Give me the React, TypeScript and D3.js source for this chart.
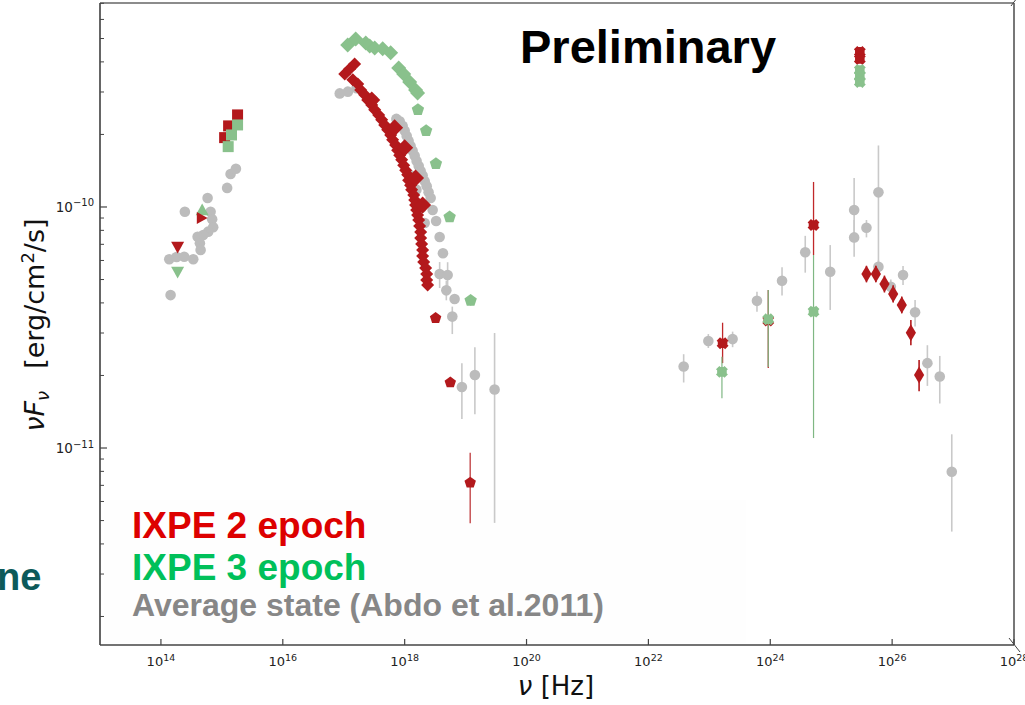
import React from 'react';
import * as d3 from 'd3';

type P = [number, number];
type PE = [number, number, number, number];

// ---------- Average state (Abdo et al. 2011) ----------
const avgOptical: P[] = [
  [1.44e14, 4.31e-11], [1.37e14, 6.07e-11], [1.81e14, 6.2e-11], [2.41e14, 6.22e-11], [3.39e14, 6.07e-11],
  [2.47e14, 9.55e-11], [5.83e14, 1.09e-10], [6.53e14, 9.55e-11], [6.93e14, 8.89e-11], [7.2e14, 8.24e-11],
  [5.96e14, 7.9e-11], [4.94e14, 7.65e-11], [4.0e14, 7.53e-11], [4.36e14, 7.07e-11], [4.48e14, 6.63e-11],
  [1.22e15, 1.2e-10], [1.39e15, 1.37e-10], [1.7e15, 1.44e-10],
];
const avgXray: P[] = [
  [8.6e16, 2.96e-10], [1.17e17, 3.01e-10], [1.62e17, 3.11e-10], [3.02e17, 2.78e-10], [7.31e17, 2.32e-10],
  [8.28e17, 2.27e-10], [9.27e17, 2.17e-10], [1.0e18, 2.07e-10], [1.08e18, 1.97e-10], [1.16e18, 1.88e-10],
  [1.25e18, 1.79e-10], [1.35e18, 1.71e-10], [1.46e18, 1.63e-10], [1.57e18, 1.55e-10], [1.7e18, 1.48e-10],
  [1.83e18, 1.41e-10], [1.97e18, 1.35e-10], [2.13e18, 1.28e-10], [2.3e18, 1.22e-10], [2.47e18, 1.15e-10],
  [2.67e18, 1.09e-10], [1.21e18, 1.36e-10], [1.56e18, 1.18e-10], [1.88e18, 9.9e-11], [2.13e18, 8.58e-11],
  [2.88e18, 9.72e-11], [3.28e18, 8.75e-11], [3.75e18, 7.51e-11], [4.25e18, 6.43e-11], [6.6e18, 4.15e-11],
];
// [nu, nuFnu, low, high]
const avgErr: PE[] = [
  [3.75e18, 5.27e-11, 4.61e-11, 5.91e-11], [5.07e18, 5.22e-11, 4.6e-11, 5.9e-11], [4.83e18, 4.51e-11, 4.1e-11, 4.95e-11],
  [6.05e18, 3.51e-11, 2.97e-11, 3.86e-11], [8.69e18, 1.79e-11, 1.32e-11, 2.25e-11], [1.42e19, 2.01e-11, 1.38e-11, 2.62e-11],
  [2.99e19, 1.75e-11, 4.89e-12, 3.0e-11],
  [3.79e22, 2.18e-11, 1.87e-11, 2.45e-11], [9.63e22, 2.78e-11, 2.6e-11, 2.97e-11], [2.41e23, 2.83e-11, 2.62e-11, 3.04e-11],
  [6.05e23, 4.08e-11, 3.68e-11, 4.45e-11], [1.56e24, 4.94e-11, 4.29e-11, 5.62e-11], [3.75e24, 6.49e-11, 5.34e-11, 7.59e-11],
  [9.63e24, 5.39e-11, 3.74e-11, 6.95e-11], [2.38e25, 9.72e-11, 7.65e-11, 1.32e-10], [2.38e25, 7.48e-11, 6.22e-11, 8.83e-11],
  [3.79e25, 8.2e-11, 7.48e-11, 8.83e-11], [5.96e25, 1.15e-10, 5.62e-11, 1.8e-10], [5.96e25, 5.65e-11, 5.3e-11, 6.0e-11],
  [9.52e25, 4.67e-11, 4.4e-11, 5.0e-11], [1.51e26, 5.22e-11, 4.75e-11, 5.69e-11], [2.38e26, 3.66e-11, 3.19e-11, 4.11e-11],
  [3.79e26, 2.25e-11, 1.81e-11, 2.67e-11], [6.05e26, 1.98e-11, 1.53e-11, 2.41e-11], [9.52e26, 7.97e-12, 4.5e-12, 1.14e-11],
];

// ---------- IXPE 2 epoch ----------
const ixpe2TriDown: P[] = [[1.88e14, 6.82e-11]];
const ixpe2TriRight: P[] = [[4.65e14, 9.0e-11]];
const ixpe2Squares: P[] = [[1.81e15, 2.41e-10], [1.29e15, 2.17e-10], [1.11e15, 1.94e-10]];
const ixpe2Xray: P[] = [
  [1.04e17, 3.56e-10], [1.25e17, 3.74e-10], [1.51e17, 3.92e-10], [1.41e17, 3.37e-10], [1.7e17, 3.24e-10],
  [1.9e17, 3.06e-10], [2.21e17, 2.92e-10], [2.47e17, 2.78e-10], [2.88e17, 2.65e-10], [3.22e17, 2.53e-10],
  [3.75e17, 2.41e-10], [4.2e17, 2.3e-10], [4.7e17, 2.19e-10], [5.26e17, 2.09e-10], [5.89e17, 1.99e-10],
  [6.35e17, 1.9e-10], [7.11e17, 1.81e-10], [7.67e17, 1.72e-10], [8.28e17, 1.64e-10], [8.93e17, 1.57e-10],
  [9.63e17, 1.49e-10], [1.04e18, 1.42e-10], [1.12e18, 1.36e-10], [1.16e18, 1.29e-10], [1.25e18, 1.23e-10],
  [1.3e18, 1.18e-10], [1.41e18, 1.12e-10], [1.46e18, 1.07e-10], [1.51e18, 1.02e-10], [1.57e18, 9.72e-11],
  [1.63e18, 9.27e-11], [1.7e18, 8.83e-11], [1.76e18, 8.34e-11], [1.83e18, 7.87e-11], [1.83e18, 7.43e-11],
  [1.9e18, 7.02e-11], [1.97e18, 6.63e-11], [1.97e18, 6.26e-11], [2.05e18, 5.91e-11], [2.21e18, 5.58e-11],
  [2.3e18, 5.27e-11], [2.3e18, 4.98e-11], [2.38e18, 4.75e-11],
];
const ixpe2XrayBig: P[] = [[2.88e17, 2.78e-10], [6.85e17, 2.13e-10], [1.0e18, 1.76e-10], [1.51e18, 1.32e-10], [1.97e18, 1.02e-10]];
const ixpe2Pent: PE[] = [
  [3.22e18, 3.46e-11, 3.46e-11, 3.46e-11], [5.61e18, 1.87e-11, 1.87e-11, 1.87e-11], [1.19e19, 7.18e-12, 4.87e-12, 9.55e-12],
];
const ixpe2Gamma: PE[] = [
  [1.65e23, 2.72e-11, 2.25e-11, 3.31e-11], [9.27e23, 3.38e-11, 2.15e-11, 4.53e-11], [5.13e24, 8.42e-11, 6.32e-11, 1.27e-10],
];
const ixpe2VHE: PE[] = [
  [3.79e25, 5.27e-11, 4.87e-11, 5.7e-11], [5.41e25, 5.27e-11, 4.87e-11, 5.7e-11], [7.48e25, 4.79e-11, 4.42e-11, 5.19e-11],
  [1.04e26, 4.36e-11, 4.02e-11, 4.73e-11], [1.44e26, 3.92e-11, 3.62e-11, 4.25e-11], [2.03e26, 3.01e-11, 2.67e-11, 3.4e-11],
  [2.77e26, 2.01e-11, 1.72e-11, 2.32e-11],
];
const ixpe2UL: P[] = [[2.95e25, 4.4e-10], [2.95e25, 4.11e-10]];

// ---------- IXPE 3 epoch ----------
const ixpe3TriDown: P[] = [[1.88e14, 5.37e-11]];
const ixpe3TriUp: P[] = [[4.75e14, 9.72e-11]];
const ixpe3Squares: P[] = [[1.81e15, 2.19e-10], [1.44e15, 1.99e-10], [1.27e15, 1.78e-10]];
const ixpe3Xray: P[] = [
  [1.16e17, 4.7e-10], [1.57e17, 4.98e-10], [2.3e17, 4.79e-10], [2.67e17, 4.66e-10], [3.22e17, 4.57e-10],
  [4.36e17, 4.53e-10], [5.89e17, 4.36e-10], [7.98e17, 3.77e-10], [9.63e17, 3.56e-10], [1.21e18, 3.3e-10],
  [1.51e18, 3.06e-10], [1.63e18, 2.97e-10],
];
const ixpe3Pent: PE[] = [
  [1.65e18, 2.53e-10, 2.53e-10, 2.53e-10], [2.25e18, 2.07e-10, 2.07e-10, 2.07e-10], [3.26e18, 1.51e-10, 1.51e-10, 1.51e-10],
  [5.47e18, 9.09e-11, 9.09e-11, 9.09e-11], [1.21e19, 4.09e-11, 3.9e-11, 4.3e-11],
];
const ixpe3Gamma: PE[] = [
  [1.61e23, 2.07e-11, 1.61e-11, 2.39e-11], [9.27e23, 3.42e-11, 2.17e-11, 4.53e-11], [5.13e24, 3.68e-11, 1.1e-11, 6.32e-11],
];
const ixpe3UL: P[] = [[2.95e25, 3.7e-10], [2.95e25, 3.5e-10], [2.95e25, 3.3e-10]];

// ---------- axes ----------
const xDomain: [number, number] = [1e13, 1e28];
const yDomain: [number, number] = [1.523e-12, 7.02e-10];
const xTickExps = [14, 16, 18, 20, 22, 24, 26, 28];
const yTickExps = [-11, -10];

const legendLabels = ['IXPE 2 epoch', 'IXPE 3 epoch', 'Average state (Abdo et al.2011)'];

const RED = '#b3191c';
const GREEN = '#89c18c';
const GRAY = '#bcbcbc';

function polygon(pts: [number, number][]): string {
  return 'M' + pts.map((p) => `${p[0].toFixed(2)},${p[1].toFixed(2)}`).join('L') + 'Z';
}
function shape(kind: string, s: number): string {
  switch (kind) {
    case 'diamond':
      return polygon([[0, -s / 2], [s / 2, 0], [0, s / 2], [-s / 2, 0]]);
    case 'thin':
      return polygon([[0, -s / 2], [s * 0.3, 0], [0, s / 2], [-s * 0.3, 0]]);
    case 'square':
      return polygon([[-s / 2, -s / 2], [s / 2, -s / 2], [s / 2, s / 2], [-s / 2, s / 2]]);
    case 'triDown':
      return polygon([[-s / 2, -s * 0.4], [s / 2, -s * 0.4], [0, s * 0.5]]);
    case 'triUp':
      return polygon([[-s / 2, s * 0.4], [s / 2, s * 0.4], [0, -s * 0.5]]);
    case 'triRight':
      return polygon([[-s * 0.4, -s / 2], [s * 0.5, 0], [-s * 0.4, s / 2]]);
    case 'pentagon': {
      const pts: [number, number][] = [];
      for (let k = 0; k < 5; k++) {
        const a = -Math.PI / 2 + (k * 2 * Math.PI) / 5;
        pts.push([(s / 2) * Math.cos(a), (s / 2) * Math.sin(a)]);
      }
      return polygon(pts);
    }
    case 'xblob': {
      const L = s / 2, a = s * 0.2;
      const base: [number, number][] = [
        [-a, -L], [a, -L], [a, -a], [L, -a], [L, a], [a, a], [a, L], [-a, L], [-a, a], [-L, a], [-L, -a], [-a, -a],
      ];
      const r = Math.PI / 4;
      const rot = base.map(([x, y]) => [x * Math.cos(r) - y * Math.sin(r), x * Math.sin(r) + y * Math.cos(r)] as [number, number]);
      const plus = base.map(([x, y]) => [x * 0.8, y * 0.8] as [number, number]);
      return polygon(rot) + polygon(plus);
    }
    default:
      return '';
  }
}

export default function App() {
  const x = d3.scaleLog().domain(xDomain).range([100, 1014]);
  const y = d3.scaleLog().domain(yDomain).range([645, 3]);

  const marks = (data: P[], kind: string, s: number, fill: string, key: string) =>
    data.map((d, i) => (
      <path key={key + i} d={shape(kind, s)} transform={`translate(${x(d[0])},${y(d[1])})`} fill={fill} />
    ));
  const circles = (data: P[], fill: string, key: string) =>
    data.map((d, i) => <circle key={key + i} cx={x(d[0])} cy={y(d[1])} r={5.3} fill={fill} />);
  const errs = (data: PE[], color: string, key: string, w = 1.5) =>
    data
      .filter((d) => d[2] !== d[3])
      .map((d, i) => (
        <line key={key + i} x1={x(d[0])} x2={x(d[0])} y1={y(d[2])} y2={y(d[3])} stroke={color} strokeWidth={w} />
      ));
  const asP = (data: PE[]): P[] => data.map((d) => [d[0], d[1]] as P);

  // minor y ticks
  const yMinor: number[] = [];
  for (const e of [-12, -11, -10]) {
    for (let m = 2; m <= 9; m++) {
      const v = m * Math.pow(10, e);
      if (v > yDomain[0] && v < yDomain[1]) yMinor.push(v);
    }
  }

  const tickFont = "'DejaVu Sans', sans-serif";
  const legendFont = "'Liberation Sans', Arial, sans-serif";

  return (
    <svg width={1025} height={705} style={{ position: 'absolute', left: 0, top: 0, background: '#fff' }}>
      <rect x={0} y={0} width={1025} height={705} fill="#fff" />
      {/* legend backdrop */}
      <rect x={104} y={500} width={642} height={143} fill="#fefefe" />

      {/* frame */}
      <line x1={100} x2={1014} y1={3} y2={3} stroke="#666" strokeWidth={1.6} />
      <line x1={1014} x2={1014} y1={3} y2={645} stroke="#555" strokeWidth={1.6} />
      <line x1={100} x2={100} y1={3} y2={645} stroke="#555" strokeWidth={1.8} />
      <line x1={100} x2={1014} y1={645} y2={645} stroke="#444" strokeWidth={1.6} />
      <line x1={1009} x2={1020} y1={638} y2={652} stroke="#444" strokeWidth={1} />
      <line x1={1011} x2={1017} y1={6} y2={-2} stroke="#444" strokeWidth={1} />

      {/* x ticks */}
      {xTickExps.map((e) => {
        const px = x(Math.pow(10, e));
        return (
          <g key={'xt' + e}>
            <line x1={px} x2={px} y1={645} y2={639} stroke="#444" strokeWidth={1.2} />
            <text x={px} y={666} fontFamily={tickFont} fontSize={13} fill="#222" textAnchor="middle">
              10<tspan fontSize={9.5} dy={-5.5}>{e}</tspan>
            </text>
          </g>
        );
      })}
      {/* y ticks */}
      {yMinor.map((v, i) => (
        <line key={'ym' + i} x1={100} x2={104} y1={y(v)} y2={y(v)} stroke="#444" strokeWidth={1} />
      ))}
      {yTickExps.map((e) => {
        const py = y(Math.pow(10, e));
        return (
          <g key={'yt' + e}>
            <line x1={100} x2={107} y1={py} y2={py} stroke="#444" strokeWidth={1.2} />
            <text x={94} y={py + 5} fontFamily={tickFont} fontSize={13.5} fill="#222" textAnchor="end">
              10<tspan fontSize={10} dy={-5.5}>{'\u2212' + Math.abs(e)}</tspan>
            </text>
          </g>
        );
      })}

      {/* axis labels */}
      <text x={556} y={695} fontFamily={tickFont} fontSize={26} fill="#111" textAnchor="middle">
        <tspan fontStyle="italic">ν</tspan> [Hz]
      </text>
      <text transform="translate(44,325) rotate(-90)" fontFamily={tickFont} fontSize={27} fill="#111" textAnchor="middle">
        <tspan fontStyle="italic">νF</tspan>
        <tspan fontStyle="italic" fontSize={18} dy={5}>ν</tspan>
        <tspan dy={-5}>{'\u2002 [erg/cm'}</tspan>
        <tspan fontSize={18} dy={-10}>2</tspan>
        <tspan dy={10}>/s]</tspan>
      </text>

      {/* Average state */}
      {errs(avgErr, '#c9c9c9', 'ae', 1.6)}
      {circles(avgOptical, GRAY, 'ao')}
      {circles(avgXray, GRAY, 'ax')}
      {circles(asP(avgErr), GRAY, 'aep')}

      {/* IXPE 2 */}
      {errs(ixpe2Pent, '#c4494b', 'e2p', 1.4)}
      {errs(ixpe2Gamma, '#c0282a', 'e2g', 1.3)}
      {errs(ixpe2VHE, '#b3191c', 'e2v', 1.6)}
      {marks(ixpe2TriDown, 'triDown', 13, RED, 'r1')}
      {marks(ixpe2Squares, 'square', 11, RED, 'r3')}
      {marks(ixpe2Xray, 'diamond', 13, RED, 'r4')}
      {marks(ixpe2XrayBig, 'diamond', 17, RED, 'r5')}
      {marks(asP(ixpe2Pent), 'pentagon', 12, RED, 'r6')}
      {marks(asP(ixpe2Gamma), 'xblob', 12, RED, 'r7')}
      {marks(asP(ixpe2VHE), 'thin', 17, RED, 'r8')}
      {marks(ixpe2UL, 'xblob', 12, RED, 'r9')}

      {/* IXPE 3 */}
      {errs(ixpe3Pent, '#8fc592', 'e3p', 1.4)}
      {errs(ixpe3Gamma, '#7fb783', 'e3g', 1.2)}
      {marks(ixpe3TriDown, 'triDown', 13, GREEN, 'g1')}
      {marks(ixpe3TriUp, 'triUp', 13, GREEN, 'g2')}
      {marks(ixpe2TriRight, 'triRight', 12, RED, 'r2')}
      {marks(ixpe3Squares, 'square', 11, GREEN, 'g3')}
      {marks(ixpe3Xray, 'diamond', 15, GREEN, 'g4')}
      {marks(asP(ixpe3Pent), 'pentagon', 13, GREEN, 'g6')}
      {marks(asP(ixpe3Gamma), 'xblob', 12, GREEN, 'g7')}
      {marks(ixpe3UL, 'xblob', 12, GREEN, 'g9')}

      {/* slide text */}
      <text x={520} y={63} fontFamily={legendFont} fontWeight="bold" fontSize={47} fill="#000">Preliminary</text>
      <text x={132} y={538} fontFamily={legendFont} fontWeight="bold" fontSize={37} fill="#dd0000">{legendLabels[0]}</text>
      <text x={132} y={580} fontFamily={legendFont} fontWeight="bold" fontSize={37} fill="#00c05a">{legendLabels[1]}</text>
      <text x={132} y={616} fontFamily={legendFont} fontWeight="bold" fontSize={32} fill="#878787">{legendLabels[2]}</text>
      <text x={-3} y={590} fontFamily={legendFont} fontWeight="bold" fontSize={38} fill="#0d5a5a">ne</text>
    </svg>
  );
}
